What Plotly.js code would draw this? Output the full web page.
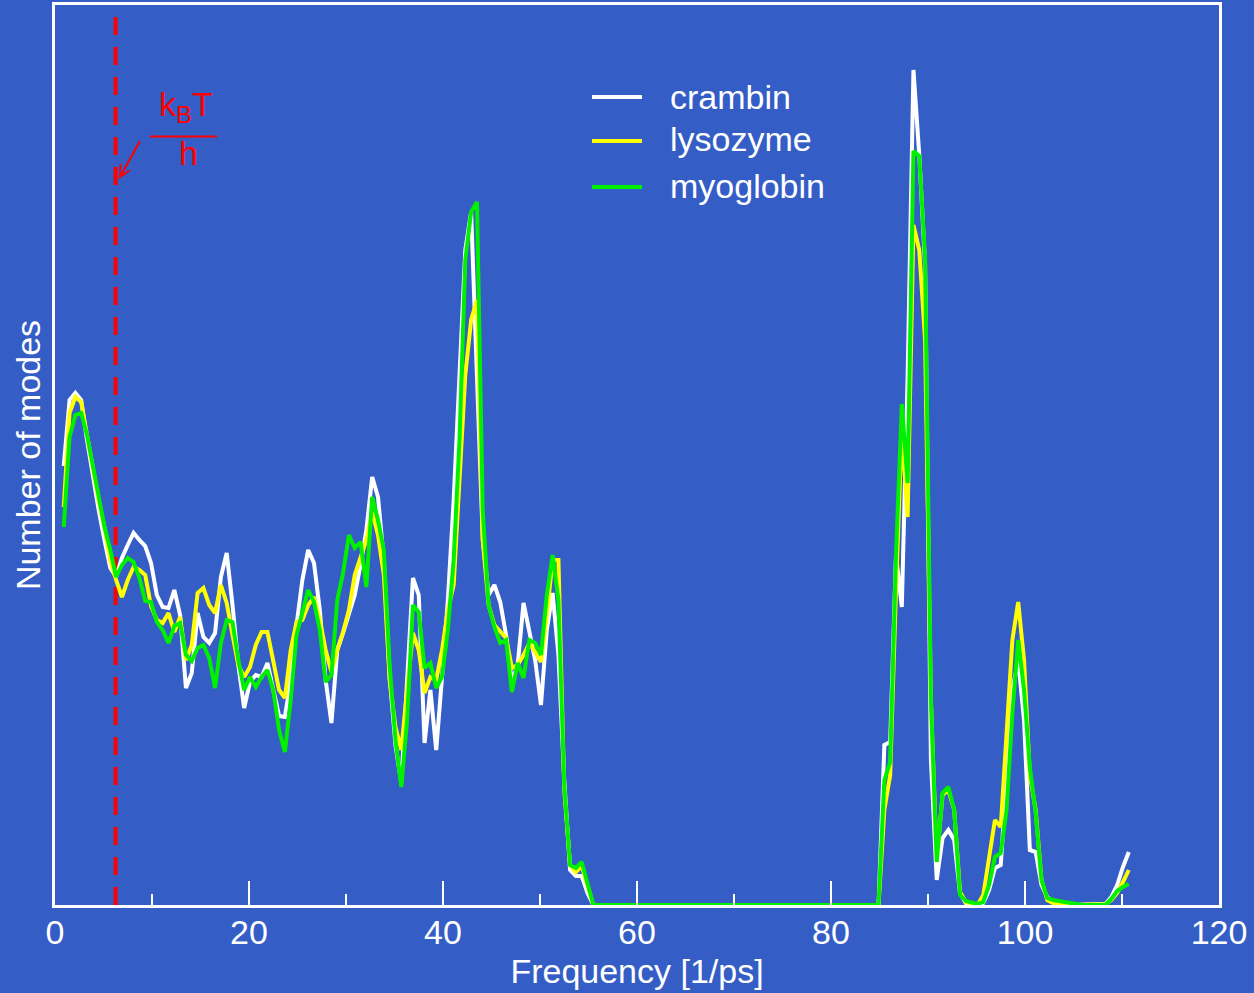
<!DOCTYPE html>
<html>
<head>
<meta charset="utf-8">
<script src="https://cdn.plot.ly/plotly-3.0.1.min.js"></script>
<style>
html,body{margin:0;padding:0;background:#345dc6;}
#chart{width:1254px;height:993px;}
</style>
</head>
<body>
<div id="chart"></div>
<script>
// Frequency grid [1/ps]
const freq = [
0.9,1.5,2.1,2.7,3.3,3.9,4.5,5.1,5.7,6.3,
6.9,7.5,8.1,8.7,9.3,9.9,10.5,11.1,11.7,12.3,
12.9,13.5,14.1,14.7,15.3,15.9,16.5,17.1,17.7,18.3,
18.9,19.5,20.1,20.7,21.3,21.9,22.5,23.1,23.7,24.3,
24.9,25.5,26.1,26.7,27.3,27.9,28.5,29.1,29.7,30.3,
30.9,31.5,32.1,32.7,33.3,33.9,34.5,35.1,35.7,36.3,
36.9,37.5,38.1,38.7,39.3,39.9,40.5,41.1,41.7,42.3,
42.9,43.5,44.1,44.7,45.3,45.9,46.5,47.1,47.7,48.3,
48.9,49.5,50.1,50.7,51.3,51.9,52.5,53.1,53.7,54.3,
54.9,55.5,56.1,56.7,57.3,57.9,58.5,59.1,59.7,60.3,
60.9,61.5,62.1,62.7,63.3,63.9,64.5,65.1,65.7,66.3,
66.9,67.5,68.1,68.7,69.3,69.9,70.5,71.1,71.7,72.3,
72.9,73.5,74.1,74.7,75.3,75.9,76.5,77.1,77.7,78.3,
78.9,79.5,80.1,80.7,81.3,81.9,82.5,83.1,83.7,84.3,
84.9,85.5,86.1,86.7,87.3,87.9,88.5,89.1,89.7,90.3,
90.9,91.5,92.1,92.7,93.3,93.9,94.5,95.1,95.7,96.3,
96.9,97.5,98.1,98.7,99.3,99.9,100.5,101.1,101.7,102.3,
102.9,103.5,104.1,104.7,105.3,105.9,106.5,107.1,107.7,108.3,
108.9,109.5,110.1,110.7
];

// Number of modes (arbitrary units)
const crambin = [
439,505,512,505,465,427,395,365,337,328,
347,360,372,365,359,342,310,298,297,315,
290,217,232,292,268,262,272,328,352,300,
240,197,223,230,228,242,215,189,188,225,
280,325,355,342,295,225,182,255,272,290,
310,340,375,428,408,345,228,160,122,225,
327,310,162,215,155,228,305,405,535,655,
693,525,365,310,320,303,270,223,240,302,
275,245,200,275,312,250,125,35,29,29,
12,0,0,0,0,0,0,0,0,0,
0,0,0,0,0,0,0,0,0,0,
0,0,0,0,0,0,0,0,0,0,
0,0,0,0,0,0,0,0,0,0,
0,0,0,0,0,0,0,0,0,0,
0,160,163,350,298,529,835,750,640,145,
25,67,75,65,12,2,0,0,2,15,
37,40,125,215,245,185,55,53,20,8,
3,1,0,0,0,0,0,0,0,1,
8,20,38,53
];

const lysozyme = [
398,492,508,503,470,435,405,377,345,325,
308,325,338,335,330,299,285,282,292,273,
288,245,260,312,317,300,292,320,302,270,
240,228,238,260,273,273,245,215,207,255,
283,285,300,308,285,255,233,255,273,295,
330,347,365,393,370,330,225,178,155,215,
272,255,212,228,225,255,295,320,425,530,
585,605,365,300,280,273,267,237,240,250,
262,253,243,290,345,345,115,40,33,39,
18,0,0,0,0,0,0,0,0,0,
0,0,0,0,0,0,0,0,0,0,
0,0,0,0,0,0,0,0,0,0,
0,0,0,0,0,0,0,0,0,0,
0,0,0,0,0,0,0,0,0,0,
0,95,130,315,475,388,680,655,565,205,
45,110,115,95,13,3,1,0,10,50,
85,78,175,265,303,245,130,95,25,5,
2,1,0,0,0,0,0,0,0,1,
5,12,23,35
];

const myoglobin = [
378,468,490,492,470,440,405,378,355,328,
340,347,343,327,304,303,283,275,262,279,
282,250,244,257,260,247,217,262,285,283,
245,215,228,218,228,235,215,175,153,205,
270,292,315,303,275,223,230,305,332,370,
357,363,318,408,385,355,240,165,118,185,
300,293,237,242,217,228,275,345,465,645,
693,703,395,300,278,262,265,213,242,227,
265,262,250,310,350,305,120,40,37,43,
20,0,0,0,0,0,0,0,0,0,
0,0,0,0,0,0,0,0,0,0,
0,0,0,0,0,0,0,0,0,0,
0,0,0,0,0,0,0,0,0,0,
0,0,0,0,0,0,0,0,0,0,
0,125,143,350,501,422,754,749,647,205,
43,112,118,95,10,4,2,1,3,20,
48,52,95,192,265,215,138,92,25,7,
5,4,3,1,0,0,0,0,0,0,
6,14,18,21
];

const seriesNames = ['crambin', 'lysozyme', 'myoglobin'];
const seriesValues = [crambin, lysozyme, myoglobin];
const seriesColors = ['#ffffff', '#ffff00', '#00f000'];
const xTickVals = [0, 20, 40, 60, 80, 100, 120];
const xTickText = ['0', '20', '40', '60', '80', '100', '120'];
const kBT_over_h = 6.25; // thermal frequency at 300 K [1/ps]

const BG = '#345dc6';
const FONT = 'Liberation Sans, Arial, Helvetica, sans-serif';
const W = 1254, H = 993;
const M = {l: 55, r: 35, t: 5, b: 88};
const PW = W - M.l - M.r, PH = H - M.t - M.b;
const pxX = px => (px - M.l) / PW;
const pxY = py => (H - M.b - py) / PH;

const traces = seriesNames.map((n, i) => ({
  type: 'scatter', mode: 'lines', name: n,
  x: freq, y: seriesValues[i],
  line: {color: seriesColors[i], width: 4},
  showlegend: false, hoverinfo: 'skip'
}));

const legendLineY = [97, 141, 187];
const legendTextY = [97, 139, 186];

// arrow pointing at the kT/h line (tail -> head, in page pixels)
const arrowTail = [140, 141], arrowHead = [120, 177];
const arrowArm1 = [129.5, 170.5], arrowArm2 = [120.5, 164];

const shapes = [
  {type: 'line', xref: 'x', yref: 'y', x0: kBT_over_h, x1: kBT_over_h, y0: 0, y1: 900,
   line: {color: '#ff0000', width: 4, dash: '18px,12px'}, layer: 'below'},
  {type: 'line', xref: 'paper', yref: 'paper', x0: pxX(150), x1: pxX(217), y0: pxY(136.5), y1: pxY(136.5),
   line: {color: '#ff0000', width: 2}},
  {type: 'line', xref: 'paper', yref: 'paper',
   x0: pxX(arrowTail[0]), y0: pxY(arrowTail[1]), x1: pxX(arrowHead[0]), y1: pxY(arrowHead[1]),
   line: {color: '#ff0000', width: 2}},
  {type: 'path', xref: 'paper', yref: 'paper',
   path: 'M' + pxX(arrowArm1[0]) + ',' + pxY(arrowArm1[1]) +
         ' L' + pxX(arrowHead[0]) + ',' + pxY(arrowHead[1]) +
         ' L' + pxX(arrowArm2[0]) + ',' + pxY(arrowArm2[1]),
   line: {color: '#ff0000', width: 2}}
];
seriesNames.forEach((n, i) => {
  shapes.push({type: 'line', xref: 'paper', yref: 'paper', x0: pxX(592), x1: pxX(642),
    y0: pxY(legendLineY[i]), y1: pxY(legendLineY[i]), line: {color: seriesColors[i], width: 4}});
});

const annotations = [
  {xref: 'paper', yref: 'paper', x: pxX(186), y: pxY(106), xanchor: 'center', yanchor: 'middle',
   text: 'k<sub>B</sub>T', showarrow: false, font: {family: FONT, size: 34, color: '#ff0000'}},
  {xref: 'paper', yref: 'paper', x: pxX(188), y: pxY(153), xanchor: 'center', yanchor: 'middle',
   text: 'h', showarrow: false, font: {family: FONT, size: 34, color: '#ff0000'}}
];
seriesNames.forEach((n, i) => {
  annotations.push({xref: 'paper', yref: 'paper', x: pxX(668), y: pxY(legendTextY[i]),
    xanchor: 'left', yanchor: 'middle', text: n, showarrow: false,
    font: {family: FONT, size: 34, color: '#ffffff'}});
});

const layout = {
  width: W, height: H,
  margin: {l: M.l, r: M.r, t: M.t, b: M.b, pad: 0},
  paper_bgcolor: BG, plot_bgcolor: BG,
  font: {family: FONT, color: '#ffffff', size: 34},
  showlegend: false,
  xaxis: {
    range: [0, 120], tickmode: 'array', tickvals: xTickVals, ticktext: xTickText,
    ticks: 'inside', ticklen: 24, tickwidth: 2, tickcolor: '#ffffff',
    ticklabelstandoff: -5,
    minor: {dtick: 10, tick0: 0, ticks: 'inside', ticklen: 11, tickwidth: 2, tickcolor: '#ffffff', showgrid: false},
    showgrid: false, zeroline: false,
    showline: true, linecolor: '#ffffff', linewidth: 3, mirror: true,
    tickfont: {family: FONT, size: 34, color: '#ffffff'},
    title: {text: 'Frequency [1/ps]', font: {family: FONT, size: 34, color: '#ffffff'}, standoff: 10}
  },
  yaxis: {
    range: [0, 900], showticklabels: false, ticks: '',
    showgrid: false, zeroline: false,
    showline: true, linecolor: '#ffffff', linewidth: 3, mirror: true,
    title: {text: 'Number of modes', font: {family: FONT, size: 34, color: '#ffffff'}, standoff: 2}
  },
  shapes: shapes,
  annotations: annotations
};

Plotly.newPlot('chart', traces, layout, {staticPlot: true, displayModeBar: false});
</script>
</body>
</html>
